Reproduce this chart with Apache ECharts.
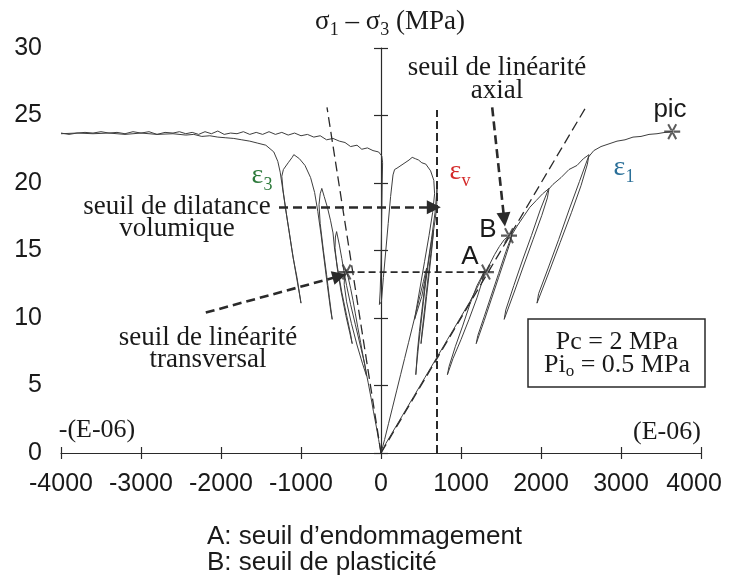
<!DOCTYPE html>
<html><head><meta charset="utf-8">
<script src="https://cdn.jsdelivr.net/npm/echarts@6/dist/echarts.min.js"></script>
<style>html,body{margin:0;padding:0;background:#fff}#c{width:729px;height:582px}</style>
</head><body><div id="c"></div>
<script>
// ---------- data (strain in 1e-6, stress in MPa) ----------
const xRange = [-4000, 4000];
const yRange = [0, 30];

const eps1Curve = [
  [0,0],[60,0.7],[130,1.4],[200,2.1],[270,2.8],[340,3.5],[410,4.2],[480,4.9],[550,5.6],[620,6.3],
  [690,7.0],[760,7.7],[830,8.4],[900,9.1],[970,9.8],[1040,10.5],[1110,11.2],[1180,12.0],[1240,12.7],[1290,13.5],
  [1270,12.8],[1200,11.5],[1100,9.9],[1000,8.4],[900,7.0],[830,5.8],
  [850,6.4],[930,7.9],[1020,9.4],[1110,11.0],[1200,12.4],[1280,13.3],[1312,13.4],[1360,14.0],[1420,14.7],[1480,15.3],[1540,15.8],[1600,16.1],[1640,16.4],
  [1620,15.7],[1560,14.6],[1470,13.0],[1380,11.4],[1290,9.8],[1190,8.1],
  [1210,8.7],[1290,10.1],[1380,11.7],[1470,13.3],[1560,14.9],[1640,16.2],[1700,16.8],[1780,17.5],[1860,18.2],[1940,18.7],[2020,19.2],[2100,19.6],
  [2080,18.9],[2010,17.6],[1900,15.8],[1790,14.0],[1670,12.0],[1540,9.9],
  [1560,10.6],[1660,12.4],[1770,14.3],[1880,16.1],[1990,18.0],[2090,19.5],[2150,19.9],[2250,20.4],[2350,21.0],[2450,21.3],[2530,21.8],[2600,22.1],
  [2580,21.4],[2500,19.8],[2380,17.8],[2240,15.6],[2100,13.4],[1950,11.1],
  [1970,11.8],[2090,13.7],[2220,15.8],[2350,18.0],[2480,20.1],[2590,21.9],[2660,22.4],[2750,22.7],[2850,22.9],[2950,23.1],
  [3050,23.2],[3150,23.4],[3250,23.45],[3350,23.6],[3450,23.65],[3550,23.75],[3640,23.8]
];

const eps3Curve = [
  [0,0],[-30,1],[-60,2],[-95,3.1],[-125,4.1],[-160,5.2],[-190,6.1],[-225,7.2],[-255,8.2],[-290,9.3],
  [-320,10.3],[-350,11.3],[-380,12.2],[-410,13.0],[-440,13.6],
  [-455,13.2],[-460,12.5],[-430,11.2],[-370,9.6],[-300,8.0],[-230,6.6],[-180,5.7],
  [-200,6.5],[-260,8.0],[-320,9.5],[-380,11.0],[-430,12.4],[-465,13.5],[-490,14.4],[-520,15.4],[-555,16.4],
  [-570,16.0],[-575,15.2],[-550,13.8],[-500,12.0],[-440,10.2],[-390,8.9],[-360,8.1],
  [-380,8.8],[-430,10.2],[-490,11.9],[-540,13.6],[-580,15.1],[-600,16.3],[-630,17.2],[-670,18.2],[-710,19.0],[-740,19.6],
  [-760,19.2],[-775,18.4],[-760,17.0],[-720,15.0],[-680,13.2],[-645,11.5],[-610,9.9],
  [-630,10.6],[-670,12.4],[-710,14.3],[-750,16.2],[-790,17.9],[-830,19.3],[-880,20.4],[-950,21.3],[-1020,21.8],[-1090,22.1],
  [-1110,21.9],[-1160,21.5],[-1220,21.0],[-1240,20.5],[-1225,19.5],[-1190,18.0],[-1150,16.5],[-1100,14.5],[-1050,13.0],[-1000,11.1],
  [-1020,11.8],[-1070,13.5],[-1120,15.3],[-1170,17.2],[-1220,19.2],[-1260,20.8],[-1290,21.6],[-1340,22.3],[-1440,22.8],
  [-1540,22.95],[-1640,23.1],[-1740,23.2],[-1840,23.3],[-1940,23.35],[-2040,23.4],[-2140,23.5],[-2240,23.45],[-2340,23.6],
  [-2440,23.55],[-2600,23.65],[-2800,23.6],[-3000,23.7],[-3200,23.6],[-3400,23.7],[-3600,23.65],[-3800,23.7],[-4000,23.65]
];

const epsVCurve = [
  [0,0],[45,1],[95,2.2],[145,3.4],[195,4.6],[245,5.8],[295,7.0],[345,8.2],[395,9.4],[440,10.5],
  [485,11.6],[530,12.7],[570,13.7],
  [565,13.2],[540,12.0],[510,10.5],[480,9.0],[455,7.5],[435,5.8],
  [445,6.5],[470,8.0],[500,9.6],[530,11.2],[560,12.7],[585,13.8],[610,14.8],[635,15.8],[655,16.5],
  [650,16.0],[630,14.8],[600,13.2],[570,11.6],[540,10.0],[500,8.1],
  [510,8.8],[540,10.4],[570,12.0],[600,13.6],[630,15.1],[660,16.6],[680,17.4],[695,18.2],[700,19.0],[700,19.6],
  [695,19.2],[675,17.8],[630,15.8],[575,13.6],[510,11.6],[420,9.9],
  [440,10.6],[490,12.3],[545,14.2],[600,16.1],[645,17.8],[670,19.2],[660,20.2],[620,20.9],[560,21.4],
  [540,21.3],[510,21.5],[470,21.7],[430,21.8],[390,21.9],[350,21.7],[300,21.5],[250,21.3],[200,21.1],[170,21.0],
  [150,20.6],[120,19.0],[90,17.0],[60,15.0],[30,13.0],[5,11.2],[-20,11.0],
  [-10,12.0],[0,14.0],[5,16.0],[10,18.0],[15,20.0],[20,21.5],[10,22.0],[-30,22.3],[-100,22.4],[-170,22.6],[-240,22.5],
  [-300,22.8],[-380,22.7],[-450,23.0],[-520,23.1],[-600,23.3],[-680,23.2],[-760,23.5],[-840,23.4],[-920,23.6],[-1000,23.5],
  [-1080,23.7],[-1160,23.55],[-1240,23.75],[-1320,23.6],[-1400,23.8],[-1480,23.6],[-1560,23.75],[-1640,23.6],[-1720,23.8],
  [-1800,23.65],[-1880,23.7],[-1960,23.6],[-2040,23.85],[-2120,23.65],[-2200,23.8],[-2280,23.6],[-2360,23.75],[-2440,23.65],
  [-2520,23.8],[-2600,23.7],[-2700,23.75],[-2800,23.6],[-2900,23.8],[-3000,23.7],[-3100,23.8],[-3200,23.65],[-3300,23.75],
  [-3400,23.7],[-3500,23.8],[-3600,23.7],[-3700,23.75],[-3800,23.7],[-3900,23.6],[-4000,23.7]
];

const fitAxial = [[0,0],[2560,25.6]];
const fitTrans = [[0,0],[-675,25.6]];
const dilatVertical = [[700,0],[700,25.4]];
const levelA = [[-430,13.4],[1312,13.4]];

const arrowDilatance = [[-1275,18.2],[660,18.2]];
const arrowTransversal = [[-2190,10.4],[-520,13.1]];
const arrowAxial = [[1390,25.6],[1540,17.3]];

const markerPoints = [[1312,13.4],[1600,16.1],[3640,23.8],[-430,13.4]];

// ---------- styles ----------
const SANS = '"Liberation Sans", Arial, Helvetica, sans-serif';
const SERIF = '"Liberation Serif", "Times New Roman", serif';
const INK = '#2a2a2a';
const CURVE = '#3e3e3e';
const STAR = 'path://M0,7 L16,7 L16,9 L0,9 Z M3.134,1.57 L11.134,15.43 L12.866,14.43 L4.866,0.57 Z M11.134,0.57 L3.134,14.43 L4.866,15.43 L12.866,1.57 Z';

function curve(data) {
  return {type:'line', data, showSymbol:false, symbol:'none', silent:true, z:3,
    lineStyle:{color:CURVE, width:1}};
}
function dashed(data, width, dash) {
  return {type:'line', data, showSymbol:false, symbol:'none', silent:true, z:4,
    lineStyle:{color:INK, width, type:dash}};
}
function serifText(text, x, y, size, color) {
  return {type:'text', x, y, z:20, silent:true,
    style:{text, font:(size||27)+'px ' + SERIF, fill:color||'#1a1a1a', textAlign:'center', textVerticalAlign:'middle'}};
}
function sansText(text, x, y, size, align) {
  return {type:'text', x, y, z:20, silent:true,
    style:{text, font:(size||25)+'px ' + SANS, fill:'#1a1a1a', textAlign:align||'center', textVerticalAlign:'middle'}};
}
// text with subscripts: parts = [[text, isSub], ...], centred on (cx, cy)
const measureCtx = document.createElement('canvas').getContext('2d');
function subLabel(parts, cx, cy, size, subSize, color, drop) {
  const fonts = parts.map(p => (p[1] ? subSize : size) + 'px ' + SERIF);
  const widths = parts.map((p, i) => { measureCtx.font = fonts[i]; return measureCtx.measureText(p[0]).width; });
  const total = widths.reduce((s, w) => s + w, 0);
  let x = cx - total / 2;
  return parts.map((p, i) => {
    const el = {type:'text', x, y: cy + (p[1] ? drop : 0), z:20, silent:true,
      style:{text:p[0], font:fonts[i], fill:color, textAlign:'left', textVerticalAlign:'middle'}};
    x += widths[i];
    return el;
  });
}

const chart = echarts.init(document.getElementById('c'), null, {renderer:'canvas'});

const axisLineStyle = {color:INK, width:1.2};
const option = {
  animation:false,
  backgroundColor:'#ffffff',
  grid:{left:61, right:28, top:48, bottom:129, containLabel:false},
  xAxis:[
    {type:'value', min:xRange[0], max:xRange[1], interval:1000, position:'bottom',
     axisLine:{onZero:false, lineStyle:axisLineStyle},
     axisTick:{show:true, inside:false, length:6, lineStyle:axisLineStyle},
     axisLabel:{fontSize:25, fontFamily:SANS, color:'#1a1a1a', margin:19,
       formatter:function(v){ return v === xRange[1] ? '{r|' + v + '}' : String(v); },
       rich:{r:{fontSize:25, fontFamily:SANS, color:'#1a1a1a', padding:[0,14,0,0]}}},
     splitLine:{show:false}},
    {type:'value', min:xRange[0], max:xRange[1], interval:1000, position:'bottom',
     axisLine:{show:false, onZero:false},
     axisTick:{show:true, inside:true, length:6, lineStyle:axisLineStyle},
     axisLabel:{show:false}, splitLine:{show:false}}
  ],
  yAxis:[
    {type:'value', min:yRange[0], max:yRange[1], interval:5, position:'left',
     axisLine:{show:false, onZero:false}, axisTick:{show:false},
     axisLabel:{fontSize:25, fontFamily:SANS, color:'#1a1a1a', margin:19},
     splitLine:{show:false}},
    {type:'value', min:yRange[0], max:yRange[1], interval:5, position:'left',
     axisLine:{show:true, onZero:true, onZeroAxisIndex:0, lineStyle:axisLineStyle},
     axisTick:{show:true, inside:false, length:7, lineStyle:axisLineStyle},
     axisLabel:{show:false}, splitLine:{show:false}},
    {type:'value', min:yRange[0], max:yRange[1], interval:5, position:'left',
     axisLine:{show:false, onZero:true, onZeroAxisIndex:0},
     axisTick:{show:true, inside:true, length:7, lineStyle:axisLineStyle},
     axisLabel:{show:false}, splitLine:{show:false}}
  ],
  series:[
    curve(eps1Curve),
    curve(eps3Curve),
    curve(epsVCurve),
    Object.assign(dashed(fitAxial, 1.3, [10,5]), {
      markLine:{silent:true, symbol:['none','triangle'], symbolSize:14, label:{show:false},
        lineStyle:{color:INK, width:2.6, type:[9,5]},
        emphasis:{disabled:true},
        data:[arrowDilatance, arrowTransversal, arrowAxial].map(a => [{coord:a[0]},{coord:a[1]}])}
    }),
    dashed(fitTrans, 1.3, [10,5]),
    dashed(dilatVertical, 2, [8,4]),
    dashed(levelA, 1.6, [7,4]),
    {type:'scatter', data:markerPoints, symbol:STAR, symbolSize:16, silent:true, z:8,
     itemStyle:{color:'#333'}}
  ],
  graphic:[].concat(
    subLabel([['σ',0],['1',1],[' – σ',0],['3',1],[' (MPa)',0]], 390, 22, 27, 18, '#1a1a1a', 8),
    [serifText('seuil de linéarité', 497, 68),
     serifText('axial', 497, 91),
     sansText('pic', 670, 110, 26)],
    subLabel([['ε',0],['3',1]], 262, 176, 28, 18, '#2e7a3c', 9),
    subLabel([['ε',0],['v',1]], 460, 172, 28, 18, '#d42a2a', 9),
    subLabel([['ε',0],['1',1]], 624, 168, 28, 18, '#2a6f98', 9),
    [sansText('B', 488, 230, 26),
     sansText('A', 470, 257, 26),
     serifText('seuil de dilatance', 177, 207),
     serifText('volumique', 177, 229),
     serifText('seuil de linéarité', 208, 338),
     serifText('transversal', 208, 360),
     serifText('-(E-06)', 97, 430, 26),
     serifText('(E-06)', 667, 432, 26),
     sansText('A: seuil d’endommagement', 207, 537, 26, 'left'),
     sansText('B: seuil de plasticité', 207, 563, 26, 'left'),
     {type:'rect', z:15, silent:true, shape:{x:528, y:319, width:177, height:68},
      style:{fill:'#ffffff', stroke:INK, lineWidth:1.5}},
     serifText('Pc = 2 MPa', 617, 342, 26)],
    subLabel([['Pi',0],['o',1],[' = 0.5 MPa',0]], 617, 365, 26, 17, '#1a1a1a', 7)
  )
};
chart.setOption(option);
</script>
</body></html>
